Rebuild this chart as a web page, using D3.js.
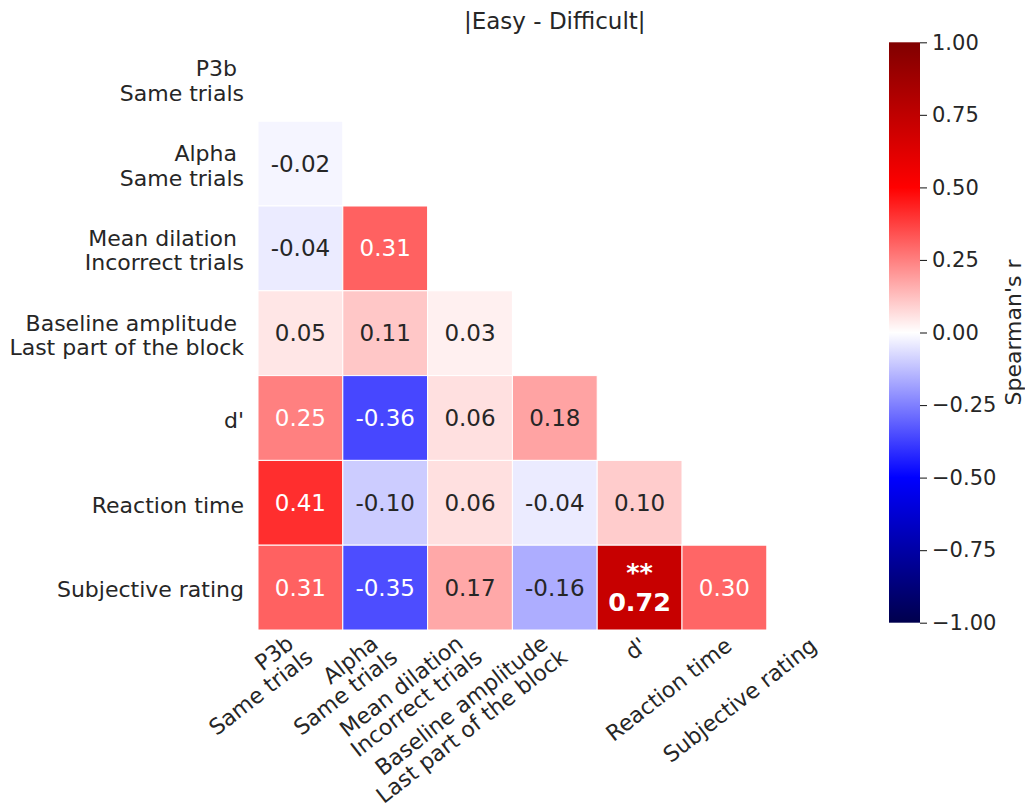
<!DOCTYPE html>
<html>
<head>
<meta charset="utf-8">
<script src="https://cdn.jsdelivr.net/npm/d3@7/dist/d3.min.js"></script>
<style>
  html, body { margin: 0; padding: 0; background: #ffffff; }
  svg { display: block; }
  text { font-family: "DejaVu Sans", sans-serif; fill: #262626; }
</style>
</head>
<body>
<svg id="chart" width="1025" height="807"></svg>
<script>
// ---------- data ----------
const title = "|Easy - Difficult|";
const labels = [
  ["P3b ", "Same trials"],
  ["Alpha ", "Same trials"],
  ["Mean dilation ", "Incorrect trials"],
  ["Baseline amplitude ", "Last part of the block"],
  ["d'"],
  ["Reaction time"],
  ["Subjective rating"]
];
// lower triangle (row i, columns 0..i-1)
const rowAlpha = [-0.02];
const rowMeanDilation = [-0.04, 0.31];
const rowBaseline = [0.05, 0.11, 0.03];
const rowDprime = [0.25, -0.36, 0.06, 0.18];
const rowReactionTime = [0.41, -0.10, 0.06, -0.04, 0.10];
const rowSubjective = [0.31, -0.35, 0.17, -0.16, 0.72, 0.30];
const rows = [[], rowAlpha, rowMeanDilation, rowBaseline, rowDprime, rowReactionTime, rowSubjective];
// significance markers [row, col, marker]
const significance = [[6, 4, "**"]];
const colorbarTicks = [-1, -0.75, -0.5, -0.25, 0, 0.25, 0.5, 0.75, 1];
const colorbarLabel = "Spearman's r";

// ---------- scales ----------
const svg = d3.select("#chart");
const n = labels.length;
const idx = d3.range(n);
const x = d3.scaleBand().domain(idx).range([258, 851.6]).paddingInner(0).paddingOuter(0);
const y = d3.scaleBand().domain(idx).range([36.4, 630]).paddingInner(0).paddingOuter(0);
// matplotlib "seismic"
const color = d3.scaleLinear()
  .domain([-1, -0.5, 0, 0.5, 1])
  .range(["rgb(0,0,77)", "rgb(0,0,255)", "rgb(255,255,255)", "rgb(255,0,0)", "rgb(128,0,0)"])
  .interpolate(d3.interpolateRgb)
  .clamp(true);

function luminance(c) {
  const rgb = d3.rgb(c);
  const f = v => { v = v / 255; return v <= 0.03928 ? v / 12.92 : Math.pow((v + 0.055) / 1.055, 2.4); };
  return 0.2126 * f(rgb.r) + 0.7152 * f(rgb.g) + 0.0722 * f(rgb.b);
}

// ---------- cells ----------
const cells = [];
rows.forEach((vals, r) => vals.forEach((v, c) => cells.push({ r, c, v })));
const sigMap = new Map(significance.map(s => [s[0] + "_" + s[1], s[2]]));

const g = svg.append("g");
g.selectAll("rect.cell").data(cells).enter().append("rect")
  .attr("class", "cell")
  .attr("x", d => x(d.c))
  .attr("y", d => y(d.r))
  .attr("width", x.bandwidth())
  .attr("height", y.bandwidth())
  .attr("fill", d => color(d.v))
  .attr("stroke", "#ffffff")
  .attr("stroke-width", 1);

cells.forEach(d => {
  const cx = x(d.c) + x.bandwidth() / 2;
  const cy = y(d.r) + y.bandwidth() / 2;
  const tc = luminance(color(d.v)) > 0.408 ? "#262626" : "#ffffff";
  const mark = sigMap.get(d.r + "_" + d.c);
  const txt = d.v.toFixed(2);
  if (mark) {
    const t = g.append("text").attr("text-anchor", "middle")
      .style("font-size", "25.5px").style("font-weight", "bold").style("fill", tc);
    t.append("tspan").attr("x", cx).attr("y", cy - 7).text(mark);
    t.append("tspan").attr("x", cx).attr("y", cy + 23).text(txt);
  } else {
    g.append("text").attr("x", cx).attr("y", cy + 8)
      .attr("text-anchor", "middle")
      .style("font-size", "23px").style("fill", tc)
      .text(txt);
  }
});

// ---------- y labels ----------
const yl = svg.append("g");
labels.forEach((lines, i) => {
  const cy = y(i) + y.bandwidth() / 2;
  const t = yl.append("text").attr("text-anchor", "end")
    .attr("xml:space", "preserve").style("white-space", "pre")
    .style("font-size", "22px");
  lines.forEach((ln, k) => {
    t.append("tspan").attr("x", 244)
      .attr("y", cy + 9.7 + (k - (lines.length - 1) / 2) * 24.5)
      .text(ln);
  });
});

// ---------- x labels ----------
const xl = svg.append("g");
labels.forEach((lines, i) => {
  const m = lines.length;
  const ox = x(i) + x.bandwidth() / 2 - 1.5 - (m - 1) * 4;
  const gg = xl.append("g").attr("transform", `translate(${ox},635) rotate(-38)`);
  const t = gg.append("text").attr("text-anchor", "end")
    .attr("xml:space", "preserve").style("white-space", "pre")
    .style("font-size", "22px");
  lines.forEach((ln, k) => {
    t.append("tspan").attr("x", 0)
      .attr("y", 17 - (m - 1) * 8 + k * 22.5)
      .text(ln);
  });
});

// ---------- title ----------
svg.append("text").attr("x", (x.range()[0] + x.range()[1]) / 2).attr("y", 28.5)
  .attr("text-anchor", "middle").style("font-size", "23px").text(title);

// ---------- colorbar ----------
const cbX = 889, cbW = 31, cbTop = 42.3, cbBottom = 622.7;
const cy = d3.scaleLinear().domain([-1, 1]).range([cbBottom, cbTop]);
const defs = svg.append("defs");
const grad = defs.append("linearGradient").attr("id", "cbgrad")
  .attr("x1", 0).attr("y1", 1).attr("x2", 0).attr("y2", 0);
color.domain().forEach(v => {
  grad.append("stop").attr("offset", (v + 1) / 2).attr("stop-color", color(v));
});
svg.append("rect").attr("x", cbX).attr("y", cbTop).attr("width", cbW)
  .attr("height", cbBottom - cbTop).attr("fill", "url(#cbgrad)");
const cbAxis = d3.axisRight(cy).tickValues(colorbarTicks).tickSize(7).tickPadding(5)
  .tickFormat(d3.format(".2f"));
const ax = svg.append("g").attr("transform", `translate(${cbX + cbW},0)`).call(cbAxis);
ax.select(".domain").remove();
ax.selectAll(".tick line").attr("stroke", "#262626").attr("stroke-width", 1.1);
ax.selectAll(".tick text").style("font-size", "21px").style("fill", "#262626")
  .attr("font-family", null);
svg.append("text").attr("transform", `translate(1021,${(cbTop + cbBottom) / 2}) rotate(-90)`)
  .attr("text-anchor", "middle").style("font-size", "22px").text(colorbarLabel);
</script>
</body>
</html>
